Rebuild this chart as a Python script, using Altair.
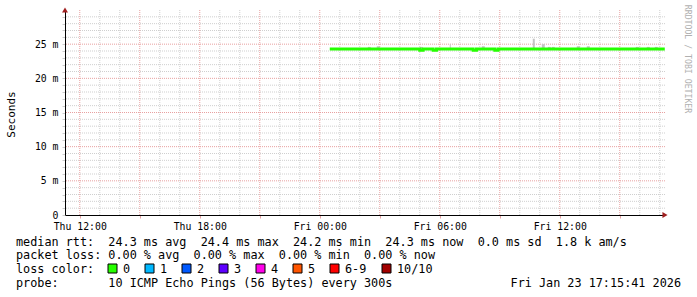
import altair as alt
import pandas as pd

# ---- data ----
rtt_time = ["2026-01-23T00:30:00", "2026-01-23T05:00:00", "2026-01-23T05:10:00",
            "2026-01-23T05:40:00", "2026-01-23T05:50:00", "2026-01-23T07:40:00",
            "2026-01-23T07:50:00", "2026-01-23T08:45:00", "2026-01-23T08:55:00",
            "2026-01-23T17:15:00"]
rtt_ms = [24.3, 24.1, 24.3, 24.1, 24.3, 24.1, 24.3, 24.1, 24.3, 24.3]

smoke_start = ["2026-01-23T02:24:00", "2026-01-23T02:51:00", "2026-01-23T05:00:00",
               "2026-01-23T06:30:00", "2026-01-23T08:06:00", "2026-01-23T10:39:00",
               "2026-01-23T11:06:00", "2026-01-23T11:24:00", "2026-01-23T11:36:00",
               "2026-01-23T12:51:00", "2026-01-23T13:21:00", "2026-01-23T15:48:00",
               "2026-01-23T16:21:00", "2026-01-23T16:45:00"]
smoke_end = ["2026-01-23T02:33:00", "2026-01-23T03:00:00", "2026-01-23T05:09:00",
             "2026-01-23T06:33:00", "2026-01-23T08:15:00", "2026-01-23T10:45:00",
             "2026-01-23T11:15:00", "2026-01-23T11:33:00", "2026-01-23T11:45:00",
             "2026-01-23T13:00:00", "2026-01-23T13:30:00", "2026-01-23T15:57:00",
             "2026-01-23T16:30:00", "2026-01-23T16:54:00"]
smoke_low = [24.3] * 14
smoke_high = [24.6, 24.7, 24.6, 25.0, 24.7, 25.8, 25.0, 24.6, 24.6, 24.7, 24.7, 24.6, 24.6, 24.6]

loss_labels = ["0", "1", "2", "3", "4", "5", "6-9", "10/10"]
loss_colors = ["#26ff00", "#00b8ff", "#0059ff", "#5e00ff", "#ff00ea", "#ff5500", "#ff0000", "#a10000"]

range_start = "2026-01-22T11:15:41"
range_end = "2026-01-23T17:15:41"

text_lines = [
    "median rtt:  24.3 ms avg  24.4 ms max  24.2 ms min  24.3 ms now  0.0 ms sd  1.8 k am/s",
    "packet loss: 0.00 % avg  0.00 % max  0.00 % min  0.00 % now",
    "loss color:",
    "probe:       10 ICMP Echo Pings (56 Bytes) every 300s",
]
stamp = "Fri Jan 23 17:15:41 2026"
watermark = "RRDTOOL / TOBI OETIKER"

# ---- helpers: hours since Thu 00:00 ----
T0 = pd.Timestamp("2026-01-22T00:00:00")


def hrs(s):
    return (pd.Timestamp(s) - T0).total_seconds() / 3600.0


NB = "\u00a0"

line_df = pd.DataFrame({"t": [hrs(s) for s in rtt_time], "v": rtt_ms})
smoke_df = pd.DataFrame({"t": [hrs(s) for s in smoke_start], "t2": [hrs(s) for s in smoke_end],
                         "v": smoke_low, "v2": smoke_high})

x0, x1 = hrs(range_start), hrs(range_end)
hour_marks = list(range(12, 42))
gx_major = pd.DataFrame({"t": [h for h in hour_marks if h % 3 == 0]})
gx_minor = pd.DataFrame({"t": [h for h in hour_marks if h % 3 != 0]})
gy_major = pd.DataFrame({"v": [5, 10, 15, 20, 25]})
gy_minor = pd.DataFrame({"v": [i for i in range(1, 30) if i % 5 != 0]})
arrow_x = pd.DataFrame({"t": [x1], "v": [0]})
arrow_y = pd.DataFrame({"t": [x0], "v": [30]})
one = pd.DataFrame({"a": [0]})

MONO = "DejaVu Sans Mono"
xscale = alt.Scale(domain=[x0, x1], nice=False, zero=False)
yscale = alt.Scale(domain=[0, 30], nice=False)

xaxis = alt.Axis(values=[h for h in hour_marks if h % 3 == 0], grid=False,
                 labelExpr="datum.value % 6 == 0 ? ((datum.value < 24 ? 'Thu ' : 'Fri ') + "
                           "(datum.value % 24 < 10 ? '0' : '') + (datum.value % 24) + ':00') : ''",
                 domainColor="black", tickColor="#e6a0a0", tickSize=3,
                 labelFont=MONO, labelFontSize=9.8, labelColor="black", labelPadding=3,
                 labelFlush=False, labelOverlap=False, title=None)
yaxis = alt.Axis(values=list(range(0, 30)), grid=False,
                 labelExpr="datum.value % 5 == 0 ? (datum.value == 0 ? '0' : datum.value + ' m') : ''",
                 domainColor="black", tickColor="#cccccc", tickSize=3,
                 labelFont=MONO, labelFontSize=9.8, labelColor="black", labelPadding=4,
                 labelOverlap=False, labelFlush=False,
                 title="Seconds", titleFont=MONO, titleFontSize=11, titleFontWeight="normal",
                 titleColor="black", titleX=-54, titleY=104, titleBaseline="middle", titleAlign="center")


def X(f):
    return alt.X(f, type="quantitative", scale=xscale, axis=xaxis, title=None)


def Y(f):
    return alt.Y(f, type="quantitative", scale=yscale, axis=yaxis, title="Seconds")


grid_minor_x = alt.Chart(gx_minor).mark_rule(color="#cfcfcf", strokeDash=[1, 1], strokeWidth=1).encode(x=X("t"))
grid_major_x = alt.Chart(gx_major).mark_rule(color="#e8a0a0", strokeDash=[1, 1], strokeWidth=1).encode(x=X("t"))
grid_minor_y = alt.Chart(gy_minor).mark_rule(color="#cfcfcf", strokeDash=[1, 1], strokeWidth=1).encode(y=Y("v"))
grid_major_y = alt.Chart(gy_major).mark_rule(color="#e8a0a0", strokeDash=[1, 1], strokeWidth=1).encode(y=Y("v"))

smoke = alt.Chart(smoke_df).mark_rect(color="#c4c4c4").encode(
    x=X("t"), x2="t2", y=Y("v"), y2="v2")
line = alt.Chart(line_df).mark_line(color="#26ff00", strokeWidth=3, interpolate="step-after").encode(
    x=X("t"), y=Y("v"))

arr1 = alt.Chart(arrow_x).mark_point(shape="triangle-right", filled=True, size=35, color="#a02020",
                                     opacity=1, dx=5).encode(x=X("t"), y=Y("v"))
arr2 = alt.Chart(arrow_y).mark_point(shape="triangle-up", filled=True, size=35, color="#a02020",
                                     opacity=1, dx=1, dy=-1).encode(x=X("t"), y=Y("v"))

layers = [grid_minor_x, grid_minor_y, grid_major_x, grid_major_y, smoke, line, arr1, arr2]

PL, PT = 65, 10
line_y = [241.5, 255, 269, 283]
for s, yy in zip(text_lines, line_y):
    layers.append(alt.Chart(one).mark_text(font=MONO, fontSize=11.8, align="left", baseline="middle",
                                           color="black").encode(
        x=alt.value(16 - PL), y=alt.value(yy - PT), text=alt.value(s.replace(" ", NB))))

layers.append(alt.Chart(one).mark_text(font=MONO, fontSize=11.8, align="right", baseline="middle",
                                       color="black").encode(
    x=alt.value(681 - PL), y=alt.value(283 - PT), text=alt.value(stamp.replace(" ", NB))))

layers.append(alt.Chart(one).mark_text(font=MONO, fontSize=8.2, align="center", baseline="middle",
                                       angle=90, color="#b0b0b0").encode(
    x=alt.value(687 - PL), y=alt.value(59 - PT), text=alt.value(watermark.replace(" ", NB))))

box_left = [108, 145, 182, 219, 256, 293, 330, 382]
for lab, col, bx in zip(loss_labels, loss_colors, box_left):
    layers.append(alt.Chart(one).mark_rect(fill=col, stroke="black", strokeWidth=1).encode(
        x=alt.value(bx - PL), x2=alt.value(bx + 9 - PL),
        y=alt.value(264 - PT), y2=alt.value(273 - PT)))
    layers.append(alt.Chart(one).mark_text(font=MONO, fontSize=11.8, align="left", baseline="middle",
                                           color="black").encode(
        x=alt.value(bx + 15 - PL), y=alt.value(269 - PT), text=alt.value(lab)))

chart = alt.layer(*layers).properties(
    width=600, height=205,
    autosize=alt.AutoSizeParams(type="none"),
    padding={"left": PL, "top": PT, "right": 32, "bottom": 82},
    background="white",
).configure_view(stroke=None)

chart.save("out.html", embed_options={"renderer": "svg", "actions": False})
